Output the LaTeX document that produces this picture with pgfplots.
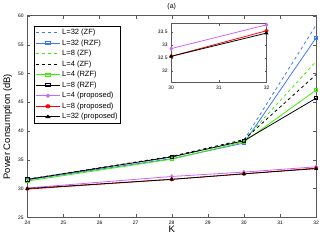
\documentclass[border=0pt]{standalone}
\usepackage{pgfplots}
\pgfplotsset{compat=1.18}
\usepackage{fontspec}
\setmainfont{Liberation Sans}
\usetikzlibrary{calc}
\definecolor{cblue}{RGB}{60,120,255}
\definecolor{cgreen}{RGB}{60,240,0}
\definecolor{cmag}{RGB}{200,100,255}
\definecolor{cframe}{RGB}{90,90,90}
\begin{document}
\begin{tikzpicture}
\begin{axis}[name=main,
  scale only axis, width=291pt, height=203pt,
  xmin=24, xmax=32, ymin=25, ymax=60,
  xtick={24,25,...,32}, ytick={25,30,...,60},
  tick align=inside, major tick length=3pt,
  axis line style={cframe}, tick style={cframe},
  tick label style={font=\fontsize{5}{6}\selectfont},
  /pgf/number format/assume math mode=true,
  xlabel={K}, ylabel={Power Consumption (dB)},
  label style={font=\fontsize{9.5}{10}\selectfont},
  xlabel style={yshift=6pt},
  ylabel style={at={(ticklabel cs:0.45)}, yshift=-1pt},
  title={(a)}, title style={font=\fontsize{7}{8}\selectfont, yshift=-4pt},
  legend style={at={(0.024,0.951)}, anchor=north west, font=\fontsize{7.6}{8}\selectfont,
    draw=black, inner sep=1pt, row sep=-0.4pt, legend cell align=left},
  legend image post style={xscale=1.4},
  line width=0.8pt, mark size=1.6pt
]
\addplot[cblue, dashed] coordinates {(24,31.6) (28,35.5) (30,38.4) (32,58.4)};
\addlegendentry{L=32 (ZF)}
\addplot[cblue, mark=square] coordinates {(24,31.5) (28,35.2) (30,37.9) (32,56.2)};
\addlegendentry{L=32 (RZF)}
\addplot[cgreen, dashed] coordinates {(24,31.6) (28,35.5) (30,38.4) (32,52.1)};
\addlegendentry{L=8 (ZF)}
\addplot[black, dashed] coordinates {(24,31.6) (28,35.6) (30,38.5) (32,49.8)};
\addlegendentry{L=4 (ZF)}
\addplot[cgreen, mark=square] coordinates {(24,31.3) (28,35.1) (30,38.1) (32,47.1)};
\addlegendentry{L=4 (RZF)}
\addplot[black, mark=square] coordinates {(24,31.6) (28,35.5) (30,38.3) (32,45.7)};
\addlegendentry{L=8 (RZF)}
\addplot[cmag, mark=diamond*] coordinates {(24,30.1) (28,32.1) (30,32.86) (32,33.78)};
\addlegendentry{L=4 (proposed)}
\addplot[red, mark=*] coordinates {(24,29.9) (28,31.6) (30,32.56) (32,33.55)};
\addlegendentry{L=8 (proposed)}
\addplot[black, mark=triangle*] coordinates {(24,30.0) (28,31.6) (30,32.56) (32,33.46)};
\addlegendentry{L=32 (proposed)}
\end{axis}
\begin{axis}[
  at={($(main.south west)+(145pt,136pt)$)}, anchor=south west,
  scale only axis, width=96pt, height=59pt,
  xmin=30, xmax=32, ymin=31.55, ymax=33.82,
  xtick={30,31,32}, ytick={32,32.5,33,33.5},
  tick align=inside, major tick length=2pt,
  axis line style={cframe}, tick style={cframe},
  axis background/.style={fill=white},
  tick label style={font=\fontsize{5}{6}\selectfont},
  /pgf/number format/assume math mode=true,
  line width=0.8pt, mark size=1.6pt, clip=false
]
\addplot[cmag, mark=diamond*] coordinates {(30,32.86) (32,33.78)};
\addplot[red, mark=*] coordinates {(30,32.56) (32,33.55)};
\addplot[black, mark=triangle*] coordinates {(30,32.56) (32,33.46)};
\end{axis}
\path[use as bounding box] ($(main.south west)+(-25pt,-23pt)$) rectangle ($(main.north east)+(16pt,16pt)$);
\end{tikzpicture}
\end{document}
